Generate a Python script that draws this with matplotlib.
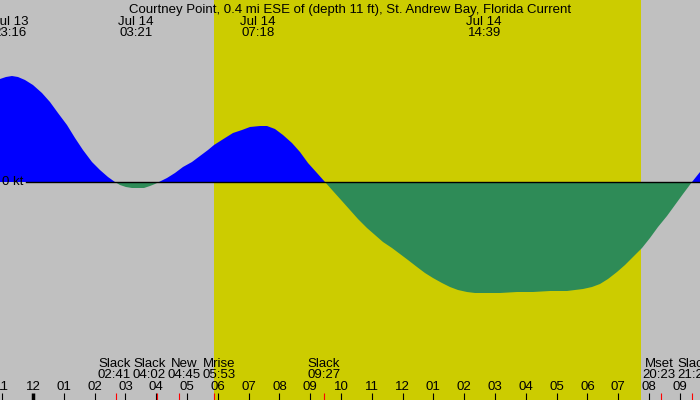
import matplotlib
matplotlib.use("Agg")
import matplotlib.pyplot as plt
import matplotlib.transforms as mtransforms
import numpy as np

# hours since midnight Jul 14, current speed in knots (flood +, ebb -)
hours = [-1.071, -0.877, -0.682, -0.487, -0.260, 0.000, 0.292, 0.552, 0.812,
         1.104, 1.364, 1.623, 1.916, 2.175, 2.435, 2.662, 2.825, 3.019,
         3.214, 3.409, 3.604, 3.799, 3.961, 4.091, 4.351, 4.610, 4.870,
         5.162, 5.422, 5.682, 5.877, 6.234, 6.494, 6.786, 7.045, 7.370,
         7.597, 7.857, 8.117, 8.409, 8.669, 8.929, 9.221, 9.481, 9.740,
         10.032, 10.292, 10.552, 10.844, 11.104, 11.364, 11.656, 11.916,
         12.175, 12.468, 12.727, 12.987, 13.279, 13.539, 13.799, 14.091,
         14.351, 14.610, 15.162, 15.714, 16.234, 16.786, 17.338, 17.857,
         18.149, 18.409, 18.669, 18.961, 19.221, 19.481, 19.773, 20.032,
         20.292, 20.584, 20.844, 21.104, 21.396, 21.656]
speed = [1.03, 1.05, 1.06, 1.05, 1.02, 0.97, 0.89, 0.80, 0.69,
         0.57, 0.44, 0.32, 0.20, 0.12, 0.05, 0.00, -0.03, -0.05,
         -0.06, -0.06, -0.06, -0.04, -0.02, 0.00, 0.04, 0.09, 0.15,
         0.20, 0.26, 0.32, 0.37, 0.44, 0.49, 0.52, 0.55, 0.56,
         0.56, 0.53, 0.47, 0.39, 0.30, 0.19, 0.09, 0.00, -0.09,
         -0.19, -0.28, -0.37, -0.46, -0.53, -0.60, -0.66, -0.72,
         -0.78, -0.85, -0.91, -0.96, -1.01, -1.05, -1.08, -1.10,
         -1.11, -1.11, -1.11, -1.10, -1.10, -1.09, -1.09, -1.07,
         -1.05, -1.02, -0.97, -0.90, -0.83, -0.75, -0.66, -0.56,
         -0.45, -0.34, -0.23, -0.12, 0.00, 0.10]

# max / min current labels at the top
peak_hours = [-0.733, 3.35, 7.30, 14.65]
peak_days = ["Jul 13", "Jul 14", "Jul 14", "Jul 14"]
peak_times = ["23:16", "03:21", "07:18", "14:39"]

# events along the bottom
event_hours = [2.683, 4.033, 4.75, 5.883, 9.45, 20.383, 21.40]
event_names = ["Slack", "Slack", "New", "Mrise", "Slack", "Mset", "Slack"]
event_times = ["02:41", "04:02", "04:45", "05:53", "09:27", "20:23", "21:24"]

sunrise, sunset = 5.88, 19.75
title = "Courtney Point, 0.4 mi ESE of (depth 11 ft), St. Andrew Bay, Florida Current"

x0, x1 = -1.071, 21.656
font = "Liberation Sans"
fs = 9.5

fig = plt.figure(figsize=(7, 4), dpi=100)
ax = fig.add_axes([0, 0, 1, 1])
ax.set_xlim(x0, x1)
ax.set_ylim(-2.18, 1.82)
ax.set_facecolor("#c0c0c0")
for s in ax.spines.values():
    s.set_visible(False)
ax.set_xticks([])
ax.set_yticks([])
trans = mtransforms.blended_transform_factory(ax.transData, ax.transAxes)

# daylight
ax.axvspan(sunrise, sunset, color="#cccc00", lw=0)

t = np.array(hours)
v = np.array(speed)
ax.fill_between(t, 0, v, where=v >= 0, interpolate=True, color="#0000ff", lw=0)
ax.fill_between(t, 0, v, where=v <= 0, interpolate=True, color="#2e8b57", lw=0)
ax.axhline(0, xmin=26 / 700, xmax=1, color="black", lw=1)
ax.text(0.003, 0, "0 kt",
        transform=mtransforms.blended_transform_factory(ax.transAxes, ax.transData),
        ha="left", va="center", fontsize=fs, family=font)

# title and peak labels
ax.text(0.5, 0.9675, title, transform=ax.transAxes, ha="center", va="baseline",
        fontsize=fs, family=font)
for h, day, tm in zip(peak_hours, peak_days, peak_times):
    ax.text(h, 0.9375, day, transform=trans, ha="center", va="baseline",
            fontsize=fs, family=font)
    ax.text(h, 0.91, tm, transform=trans, ha="center", va="baseline",
            fontsize=fs, family=font)

# hour ticks
for h in range(-1, 22):
    lab = "%02d" % ((h - 1) % 12 + 1)
    ax.plot([h, h], [0, 0.018], transform=trans, color="black",
            lw=2.5 if h == 0 else 0.8, solid_capstyle="butt")
    ax.text(h, 0.025, lab, transform=trans, ha="center", va="baseline",
            fontsize=fs, family=font)

# event ticks and labels, spread apart so they do not overlap
pos = list(event_hours)
gap = 1.13
for _ in range(200):
    for i in range(len(pos) - 1):
        d = pos[i + 1] - pos[i]
        if d < gap:
            pos[i] -= (gap - d) / 2
            pos[i + 1] += (gap - d) / 2
for h, p, name, tm in zip(event_hours, pos, event_names, event_times):
    ax.plot([h, h], [0, 0.018], transform=trans, color="red", lw=0.8,
            solid_capstyle="butt")
    ax.text(p, 0.0825, name, transform=trans, ha="center", va="baseline",
            fontsize=fs, family=font)
    ax.text(p, 0.055, tm, transform=trans, ha="center", va="baseline",
            fontsize=fs, family=font)

fig.savefig("out.png", dpi=100)
